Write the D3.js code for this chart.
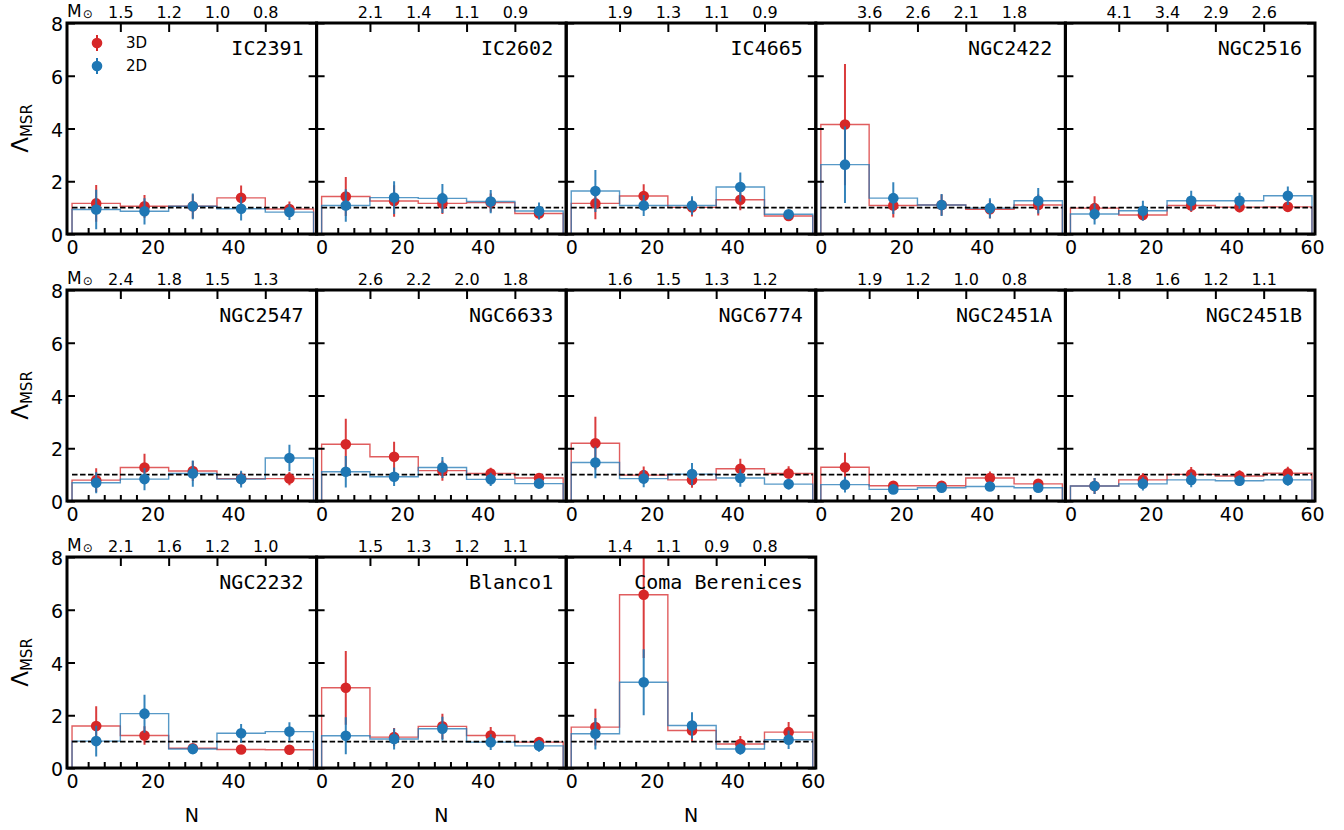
<!DOCTYPE html>
<html>
<head>
<meta charset="utf-8">
<script src="https://cdn.jsdelivr.net/npm/d3@7"></script>
<style>
  body { margin: 0; background: #fff; }
  svg { display: block; font-family: "DejaVu Sans", sans-serif; }
</style>
</head>
<body>
<svg id="chart" width="1344" height="830"></svg>
<script>
// cluster names, one panel each
const clusters = ["IC2391","IC2602","IC4665","NGC2422","NGC2516",
                  "NGC2547","NGC6633","NGC6774","NGC2451A","NGC2451B",
                  "NGC2232","Blanco1","Coma Berenices"];
// top axis: mass at the bin edges 12,24,36,48
const massLabels = [
  ["1.5","1.2","1.0","0.8"], ["2.1","1.4","1.1","0.9"], ["1.9","1.3","1.1","0.9"],
  ["3.6","2.6","2.1","1.8"], ["4.1","3.4","2.9","2.6"], ["2.4","1.8","1.5","1.3"],
  ["2.6","2.2","2.0","1.8"], ["1.6","1.5","1.3","1.2"], ["1.9","1.2","1.0","0.8"],
  ["1.8","1.6","1.2","1.1"], ["2.1","1.6","1.2","1.0"], ["1.5","1.3","1.2","1.1"],
  ["1.4","1.1","0.9","0.8"]
];
const binEdges = [0, 12, 24, 36, 48, 60];
const binCenters = [6, 18, 30, 42, 54];
// Lambda_MSR, 3D
const val3D = [
  [1.16,1.05,1.05,1.37,0.95], [1.42,1.25,1.16,1.19,0.78], [1.16,1.44,1.01,1.30,0.68],
  [4.15,1.08,1.10,0.94,1.10], [0.98,0.72,1.08,1.02,1.03], [0.79,1.27,1.14,0.85,0.85],
  [2.15,1.68,1.15,1.04,0.87], [2.19,0.98,0.80,1.22,1.04], [1.28,0.58,0.58,0.87,0.65],
  [0.57,0.80,1.01,0.95,1.05], [1.59,1.23,0.75,0.70,0.69], [3.04,1.17,1.58,1.23,0.98],
  [1.55,6.57,1.42,0.91,1.36]
];
const err3D = [
  [0.70,0.43,0.45,0.47,0.28], [0.74,0.60,0.40,0.35,0.22], [0.60,0.45,0.35,0.40,0.15],
  [2.30,0.45,0.40,0.35,0.40], [0.45,0.20,0.25,0.20,0.20], [0.45,0.52,0.38,0.25,0.25],
  [0.97,0.57,0.38,0.22,0.18], [1.00,0.33,0.30,0.38,0.28], [0.55,0.12,0.15,0.25,0.15],
  [0.30,0.25,0.28,0.22,0.25], [0.75,0.35,0.15,0.12,0.10], [1.40,0.35,0.48,0.32,0.20],
  [0.70,2.40,0.40,0.30,0.38]
];
// Lambda_MSR, 2D
const val2D = [
  [0.93,0.86,1.05,0.96,0.83], [1.08,1.38,1.35,1.23,0.87], [1.63,1.08,1.08,1.78,0.75],
  [2.63,1.36,1.10,0.98,1.26], [0.76,0.88,1.26,1.26,1.45], [0.69,0.83,1.04,0.83,1.63],
  [1.11,0.92,1.27,0.82,0.66], [1.46,0.85,1.02,0.87,0.64], [0.62,0.44,0.50,0.55,0.50],
  [0.57,0.65,0.80,0.77,0.80], [1.02,2.06,0.72,1.32,1.38], [1.22,1.10,1.49,0.98,0.84],
  [1.30,3.25,1.61,0.72,1.07]
];
const err2D = [
  [0.75,0.50,0.49,0.45,0.30], [0.62,0.62,0.55,0.44,0.32], [0.80,0.40,0.35,0.55,0.15],
  [1.45,0.60,0.42,0.38,0.48], [0.40,0.38,0.38,0.30,0.35], [0.40,0.42,0.50,0.32,0.50],
  [0.60,0.35,0.40,0.25,0.18], [0.60,0.33,0.42,0.33,0.20], [0.30,0.10,0.12,0.12,0.12],
  [0.30,0.25,0.28,0.20,0.22], [0.58,0.72,0.20,0.35,0.35], [0.70,0.40,0.45,0.30,0.22],
  [0.60,1.25,0.50,0.22,0.35]
];
const yTicks = [0, 2, 4, 6, 8];
const xLabelTicks = [0, 20, 40, 60];
const xMinorTicks = [4,8,12,16,24,28,32,36,44,48,52,56];

const RED = "#d62728", BLUE = "#1f77b4";
const left0 = 67, panelW = 249.6, panelH = 211;
const rowTop = [23, 290, 557];
const nCols = 5;

const svg = d3.select("#chart");

const x = d3.scaleLinear().domain([-1.25, 60.75]).range([0, panelW]);
const y = d3.scaleLinear().domain([0, 8]).range([panelH, 0]);

function stepPoints(vals) {
  const pts = [[binEdges[0], 0]];
  vals.forEach((v, i) => { pts.push([binEdges[i], v]); pts.push([binEdges[i + 1], v]); });
  pts.push([binEdges[binEdges.length - 1], 0]);
  return pts;
}
const line = d3.line().x(d => x(d[0])).y(d => y(d[1]));

clusters.forEach((name, p) => {
  const row = Math.floor(p / nCols), col = p % nCols;
  const lastInRow = (col === nCols - 1) || p === clusters.length - 1;
  const g = svg.append("g")
    .attr("transform", `translate(${left0 + col * panelW},${rowTop[row]})`);

  g.append("clipPath").attr("id", "clip" + p)
    .append("rect").attr("width", panelW).attr("height", panelH);
  const plot = g.append("g").attr("clip-path", `url(#clip${p})`);

  // step histograms
  [[val3D[p], RED], [val2D[p], BLUE]].forEach(([vals, c]) => {
    plot.append("path")
      .attr("d", line(stepPoints(vals)))
      .attr("fill", "none").attr("stroke", c)
      .attr("stroke-width", 1.4).attr("stroke-opacity", 0.75);
  });

  // reference line at 1
  plot.append("line")
    .attr("x1", x(0)).attr("x2", x(60))
    .attr("y1", y(1)).attr("y2", y(1))
    .attr("stroke", "#000").attr("stroke-width", 1.6)
    .attr("stroke-dasharray", "5.5,2.5");

  // error bars + points
  [[val3D[p], err3D[p], RED], [val2D[p], err2D[p], BLUE]].forEach(([vals, errs, c]) => {
    const pts = vals.map((v, i) => ({ x: binCenters[i], v: v, e: errs[i] }));
    plot.selectAll(null).data(pts).join("line")
      .attr("x1", d => x(d.x)).attr("x2", d => x(d.x))
      .attr("y1", d => y(d.v - d.e)).attr("y2", d => y(d.v + d.e))
      .attr("stroke", c).attr("stroke-width", 2).attr("stroke-opacity", 0.9);
    plot.selectAll(null).data(pts).join("circle")
      .attr("cx", d => x(d.x)).attr("cy", d => y(d.v)).attr("r", 5.3)
      .attr("fill", c);
  });

  // left / right inward y ticks
  const yl = g.append("g")
    .call(d3.axisLeft(y).tickValues(yTicks).tickSizeInner(-8).tickSizeOuter(0).tickPadding(4));
  yl.select(".domain").remove();
  yl.selectAll(".tick line").attr("stroke-width", 2);
  yl.selectAll("text").attr("font-size", 19).attr("font-family", "DejaVu Sans")
    .attr("fill", "#000").attr("dy", "0.4em");
  if (col !== 0) yl.selectAll("text").remove();

  const yr = g.append("g").attr("transform", `translate(${panelW},0)`)
    .call(d3.axisRight(y).tickValues(yTicks).tickSizeInner(-8).tickSizeOuter(0).tickFormat(""));
  yr.select(".domain").remove();
  yr.selectAll(".tick line").attr("stroke-width", 2);

  // bottom minor ticks (inward)
  const xb = g.append("g").attr("transform", `translate(0,${panelH})`)
    .call(d3.axisBottom(x).tickValues(xMinorTicks).tickSizeInner(-6).tickSizeOuter(0).tickFormat(""));
  xb.select(".domain").remove();
  xb.selectAll(".tick line").attr("stroke-width", 2);

  // bottom labels
  const labTicks = lastInRow ? xLabelTicks : xLabelTicks.slice(0, 3);
  const xl = g.append("g").attr("transform", `translate(0,${panelH})`)
    .call(d3.axisBottom(x).tickValues(labTicks).tickSize(0).tickPadding(3));
  xl.select(".domain").remove();
  xl.selectAll("text").attr("font-size", 19).attr("font-family", "DejaVu Sans")
    .attr("fill", "#000").attr("dy", "0.9em");

  // top axis: masses
  const xt = g.append("g")
    .call(d3.axisTop(x).tickValues(binEdges.slice(1, 5))
      .tickFormat((d, i) => massLabels[p][i]).tickSizeInner(-9).tickSizeOuter(0).tickPadding(5));
  xt.select(".domain").remove();
  xt.selectAll(".tick line").attr("stroke-width", 2);
  xt.selectAll("text").attr("font-size", 16).attr("font-family", "DejaVu Sans")
    .attr("fill", "#000").attr("dy", 0);

  // frame
  g.append("rect").attr("width", panelW).attr("height", panelH)
    .attr("fill", "none").attr("stroke", "#000").attr("stroke-width", 3);

  // cluster name
  g.append("text").attr("x", panelW - 13).attr("y", 32)
    .attr("text-anchor", "end").attr("font-family", "DejaVu Sans Mono")
    .attr("font-size", 20).text(name);

  if (col === 0) {
    // M_sun
    const m = g.append("text").attr("x", 0).attr("y", -6).attr("font-size", 17);
    m.append("tspan").text("M");
    m.append("tspan").attr("font-size", 12).attr("dx", 1).attr("dy", 1).text("\u2299");
    // y label
    const yt = g.append("text")
      .attr("transform", `translate(${-39},${panelH / 2}) rotate(-90)`)
      .attr("text-anchor", "middle").attr("font-size", 23);
    yt.append("tspan").text("\u039B");
    yt.append("tspan").attr("font-size", 15).attr("dy", 4).text("MSR");
  }

  if (row === 2) {
    g.append("text").attr("x", panelW / 2).attr("y", panelH + 54)
      .attr("text-anchor", "middle").attr("font-size", 19).text("N");
  }

  if (p === 0) {
    const leg = g.append("g");
    [["3D", RED], ["2D", BLUE]].forEach(([lab, c], i) => {
      const ly = 20 + i * 23;
      leg.append("line").attr("x1", 30).attr("x2", 30)
        .attr("y1", ly - 8).attr("y2", ly + 8)
        .attr("stroke", c).attr("stroke-width", 2);
      leg.append("circle").attr("cx", 30).attr("cy", ly).attr("r", 5.3).attr("fill", c);
      leg.append("text").attr("x", 59).attr("y", ly + 5).attr("font-size", 15).text(lab);
    });
  }
});
</script>
</body>
</html>
